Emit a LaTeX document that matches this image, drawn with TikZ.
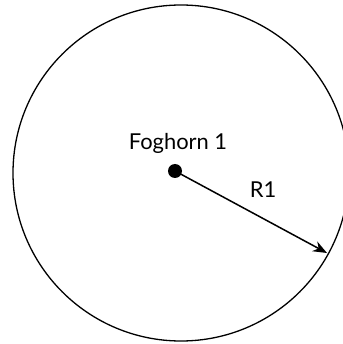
\documentclass[tikz,border=0pt]{standalone}
\usepackage{fontspec}
\setmainfont{Lato}
\usetikzlibrary{arrows.meta,positioning}

\tikzset{
    rangecircle/.style={draw, circle, line width=1.3bp, minimum size=336bp, inner sep=0pt},
    dotnode/.style={fill, circle, minimum size=14bp, inner sep=0pt},
    tag/.style={font=\fontsize{22}{26}\selectfont, inner sep=0pt},
    radius arrow/.style={line width=1.5bp, -{Stealth[length=14bp, width=11bp]}}
}

\begin{document}
\begin{tikzpicture}[x=1bp, y=1bp]
    \useasboundingbox (0,0) rectangle (343,344);
    % coverage circle and foghorn
    \node[rangecircle] (zone) at (181,171) {};
    \node[dotnode] (foghorn) at (175,173) {};
    \node[tag, above=10bp of foghorn, xshift=3bp] (foghornlabel) {Foghorn 1};
    \coordinate (rim) at (327,91);
    % range radius
    \draw[radius arrow] (foghorn.center) -- (rim)
        node[tag, pos=0.58, above=20bp] (rlabel) {R1};
\end{tikzpicture}
\end{document}
